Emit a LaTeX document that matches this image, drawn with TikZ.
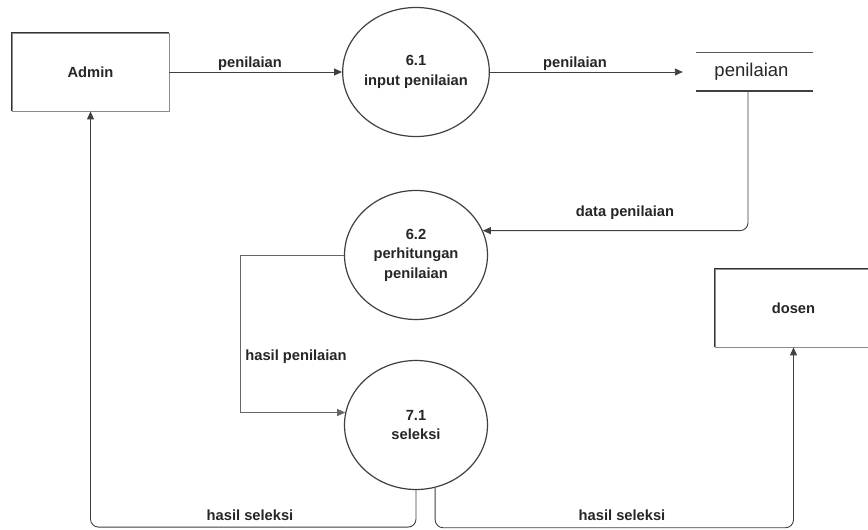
\documentclass[tikz,border=0pt]{standalone}
\usepackage{fontspec}
\setmainfont{Liberation Sans}
\usetikzlibrary{shapes.geometric,arrows.meta}
\begin{document}
\begin{tikzpicture}[x=1pt,y=-1pt,
  lbl/.style={font=\fontsize{14.7}{19.5}\selectfont\bfseries, text=black!85, inner sep=0pt},
  proc/.style={ellipse, draw=black!75, line width=1.2pt, minimum width=143pt, minimum height=129pt, align=center, font=\fontsize{14.7}{19.5}\selectfont\bfseries, text=black!85, inner sep=0pt},
  ent/.style={rectangle, draw=black!45, line width=0.8pt, align=center, font=\fontsize{14.7}{19.5}\selectfont\bfseries, text=black!85, inner sep=0pt},
  flow/.style={draw=black!75, line width=0.9pt, -{Triangle[length=8pt,width=7pt]}, rounded corners=8pt}
]
\useasboundingbox (0,0) rectangle (868,530);
\fill[white] (0,0) rectangle (868,530);

% entities
\node[ent, minimum width=157pt, minimum height=78pt] (admin) at (90.5,72) {Admin};
\draw[black!80, line width=1.7pt] (admin.south west) -- (admin.north west) -- (admin.north east);
\node[ent, minimum width=157pt, minimum height=78pt] (dosen) at (793.5,308) {dosen};
\draw[black!80, line width=1.7pt] (dosen.south west) -- (dosen.north west) -- (dosen.north east);

% processes
\node[proc] (p61) at (416,72) {6.1\\input penilaian};
\node[proc] (p62) at (416,255) {6.2\\perhitungan\\penilaian};
\node[proc] (p71) at (416,425) {7.1\\seleksi};

% data store
\node[minimum width=130pt, minimum height=38pt, inner sep=0pt, font=\fontsize{18.5}{20}\selectfont, text=black!85] (store) at (748,72) {\hspace*{7pt}penilaian};
\draw[black!65, line width=1.2pt] ([xshift=13pt]store.north west) -- (store.north east);
\draw[black!75, line width=1.7pt] ([xshift=13pt]store.south west) -- (store.south east);

% flows
\draw[flow] (admin.east) -- (p61.west);
\node[lbl] (l1) at (250,64) {penilaian};
\draw[flow] (p61.east) -- (store.west);
\node[lbl] (l2) at (575,64) {penilaian};
\draw[flow] (store.south) |- (p62.20);
\node[lbl] (l3) at (625,213) {data penilaian};
\draw[flow, draw=black!60, line width=0.7pt, rounded corners=0pt] (p62.west) -- ++(-104,0) |- (p71.170);
\node[lbl] (l4) at (296,357) {hasil penilaian};
\draw[flow] (p71.south) -- ++(0,37) -| (admin.south);
\node[lbl] (l5) at (250,515) {hasil seleksi};
\draw[flow] (p71.-73) -- ++(0,40) -| (dosen.south);
\node[lbl] (l6) at (622,515) {hasil seleksi};
\end{tikzpicture}
\end{document}
